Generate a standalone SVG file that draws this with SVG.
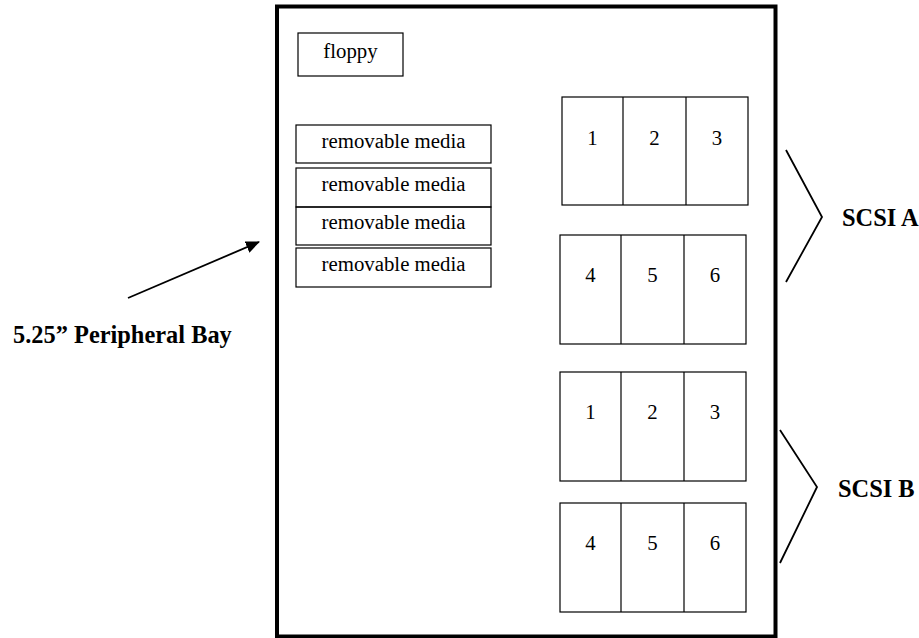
<svg xmlns="http://www.w3.org/2000/svg" width="919" height="638" viewBox="0 0 919 638">
<style>
.box{fill:none;stroke:#000;stroke-width:1.2}
.t{font-family:"Liberation Serif","Times New Roman",serif;font-size:20.8px;fill:#000;text-anchor:middle}
.b{font-family:"Liberation Serif","Times New Roman",serif;font-size:24.4px;font-weight:bold;fill:#000}
.ln{fill:none;stroke:#000;stroke-width:1.8}
</style>
<defs>
<marker id="ah" markerWidth="14" markerHeight="12" refX="13" refY="6" orient="auto" markerUnits="userSpaceOnUse">
<path d="M0,0 L14,6 L0,12 Z" fill="#000"/>
</marker>
</defs>
<rect width="919" height="638" fill="#fff"/>
<g id="chassis"><rect x="277" y="6.5" width="498.5" height="630" fill="none" stroke="#000" stroke-width="4"/></g>
<g id="floppy"><rect class="box" x="298" y="33" width="105" height="43"/><text class="t" x="350.5" y="58">floppy</text></g>
<g id="rm1"><rect class="box" x="296" y="125" width="195" height="38"/><text class="t" x="393.5" y="148">removable media</text></g>
<g id="rm2"><rect class="box" x="296" y="168" width="195" height="39"/><text class="t" x="393.5" y="191">removable media</text></g>
<g id="rm3"><rect class="box" x="296" y="207" width="195" height="38"/><text class="t" x="393.5" y="229">removable media</text></g>
<g id="rm4"><rect class="box" x="296" y="248" width="195" height="39"/><text class="t" x="393.5" y="271">removable media</text></g>
<g id="scsiA-1">
<rect class="box" x="562" y="97" width="186" height="108"/>
<line class="box" x1="623" y1="97" x2="623" y2="205"/><line class="box" x1="686" y1="97" x2="686" y2="205"/>
<text class="t" x="592.5" y="145">1</text><text class="t" x="654.5" y="145">2</text><text class="t" x="717" y="145">3</text>
</g>
<g id="scsiA-2">
<rect class="box" x="560" y="235" width="186" height="109"/>
<line class="box" x1="621" y1="235" x2="621" y2="344"/><line class="box" x1="684" y1="235" x2="684" y2="344"/>
<text class="t" x="590.5" y="282">4</text><text class="t" x="652.5" y="282">5</text><text class="t" x="715" y="282">6</text>
</g>
<g id="scsiB-1">
<rect class="box" x="560" y="372" width="186" height="109"/>
<line class="box" x1="621" y1="372" x2="621" y2="481"/><line class="box" x1="684" y1="372" x2="684" y2="481"/>
<text class="t" x="590.5" y="419">1</text><text class="t" x="652.5" y="419">2</text><text class="t" x="715" y="419">3</text>
</g>
<g id="scsiB-2">
<rect class="box" x="560" y="503" width="186" height="109"/>
<line class="box" x1="621" y1="503" x2="621" y2="612"/><line class="box" x1="684" y1="503" x2="684" y2="612"/>
<text class="t" x="590.5" y="550">4</text><text class="t" x="652.5" y="550">5</text><text class="t" x="715" y="550">6</text>
</g>
<g id="labels">
<text class="b" x="13" y="343">5.25” Peripheral Bay</text>
<text class="b" x="842" y="226">SCSI A</text>
<text class="b" x="838" y="497">SCSI B</text>
</g>
<g id="connectors">
<line class="ln" x1="128" y1="298" x2="259" y2="242" marker-end="url(#ah)"/>
<polyline class="ln" points="786,150 822,217 786,282"/>
<polyline class="ln" points="780,430 817,487 780,563"/>
</g>
</svg>
